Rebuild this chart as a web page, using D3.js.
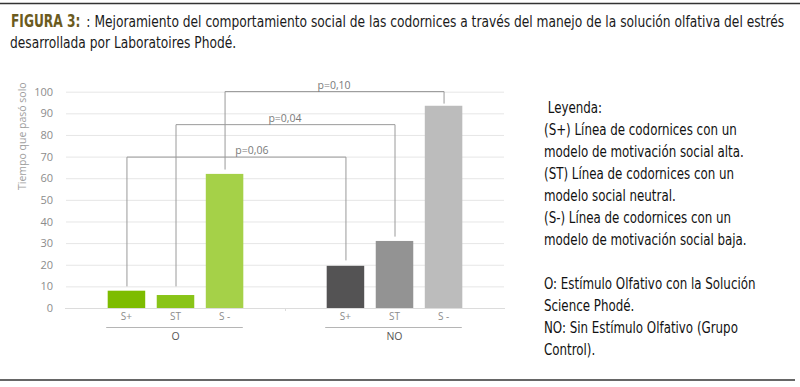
<!DOCTYPE html>
<html>
<head>
<meta charset="utf-8">
<script src="https://cdn.jsdelivr.net/npm/d3@7"></script>
<style>
  body { margin: 0; background: #fff; }
  .narrow { font-family: "Liberation Sans Narrow", "DejaVu Sans Condensed", sans-serif; font-stretch: condensed; }
  .chart-text { font-family: "Open Sans", "DejaVu Sans", sans-serif; }
</style>
</head>
<body>
<script>
// Data
var groups = ["O", "NO"];
var lines = ["S+", "ST", "S -"];
var valuesO = [8, 6, 62];
var valuesNO = [19.5, 31, 93.5];
var yTicks = [0, 10, 20, 30, 40, 50, 60, 70, 80, 90, 100];

// significance brackets: O line vs NO line
var pLabels = ["p=0,06", "p=0,04", "p=0,10"];
var pLevel = [70, 85, 100.3];
var pLeftEnd = [10, 10, 64];
var pRightEnd = [22, 33, 94.5];

var legendLines = [
  " Leyenda:",
  "(S+) Línea de codornices con un",
  "modelo de motivación social alta.",
  "(ST) Línea de codornices con un",
  "modelo social neutral.",
  "(S-) Línea de codornices con un",
  "modelo de motivación social baja.",
  "",
  "O: Estímulo Olfativo con la Solución",
  "Science Phodé.",
  "NO: Sin Estímulo Olfativo (Grupo",
  "Control)."
];

var colorsO = ["#7dbc00", "#89c418", "#a5d148"];
var colorsNO = ["#545354", "#939393", "#bcbcbc"];

var svgWidth = 800;
var svgHeight = 387;

var svg = d3.select("body")
  .append("svg")
  .attr("width", svgWidth)
  .attr("height", svgHeight);

// narrow text helper: squeezes the condensed fallback font horizontally
function narrowText(parent, x, y, size, sx) {
  return parent.append("text")
    .attr("class", "narrow")
    .attr("transform", `translate(${x},${y}) scale(${sx},1)`)
    .attr("font-size", size);
}

// frame lines top and bottom
svg.append("line")
  .attr("x1", 0).attr("x2", 800)
  .attr("y1", 3.5).attr("y2", 3.5)
  .attr("stroke", "#333").attr("stroke-width", 1.5);

svg.append("line")
  .attr("x1", 0).attr("x2", 795)
  .attr("y1", 380).attr("y2", 380)
  .attr("stroke", "#333").attr("stroke-width", 1.5);

// title
var figLabel = narrowText(svg, 11, 27, 17, 0.8)
  .attr("font-weight", "bold")
  .attr("fill", "#6b5b1e")
  .text("FIGURA 3:");

var figW = figLabel.node().getComputedTextLength() * 0.8;

var titleStart = 11 + figW + 6;
var title1 = narrowText(svg, titleStart, 27, 15.5, 1)
  .attr("fill", "#1a1a1a")
  .text(": Mejoramiento del comportamiento social de las codornices a través del manejo de la solución olfativa del estrés");

var titleScale = (785 - titleStart) / title1.node().getComputedTextLength();
title1.attr("transform", `translate(${titleStart},27) scale(${titleScale},1)`);

narrowText(svg, 10, 48, 15.5, titleScale)
  .attr("fill", "#1a1a1a")
  .text("desarrollada por Laboratoires Phodé.");

// chart scales
var yScale = d3.scaleLinear()
  .domain([0, 100])
  .range([308, 91.7]);

var xGroup = d3.scaleBand()
  .domain(groups)
  .range([66, 504]);

var xLine = d3.scaleBand()
  .domain(lines)
  .range([0, xGroup.bandwidth()])
  .paddingInner(0.235)
  .paddingOuter(0.85);

var chartGroup = svg.append("g").attr("class", "chart-text");

// gridlines
chartGroup.selectAll(".grid")
  .data(yTicks.slice(1))
  .enter().append("line")
  .attr("x1", 66)
  .attr("x2", 504)
  .attr("y1", d => yScale(d) + 0.5)
  .attr("y2", d => yScale(d) + 0.5)
  .attr("stroke", "#e6e6e6");

// y axis (labels only)
var leftAxis = d3.axisLeft(yScale)
  .tickValues(yTicks)
  .tickSize(0)
  .tickPadding(0);

var yAxis = chartGroup.append("g")
  .attr("transform", "translate(53,0)")
  .call(leftAxis);

yAxis.select(".domain").remove();
yAxis.selectAll("text")
  .attr("font-family", "Open Sans, sans-serif")
  .attr("font-size", 11)
  .attr("fill", "#8c8c8c");

// y axis title
chartGroup.append("text")
  .attr("transform", "translate(26,190) rotate(-90)")
  .attr("font-size", 10.5)
  .attr("fill", "#a0a0a0")
  .text("Tiempo que pasó solo");

// baseline
chartGroup.append("line")
  .attr("x1", 65).attr("x2", 505)
  .attr("y1", 308.5).attr("y2", 308.5)
  .attr("stroke", "#dcdcdc");

chartGroup.append("line")
  .attr("x1", xGroup("NO") + 0.5).attr("x2", xGroup("NO") + 0.5)
  .attr("y1", 308).attr("y2", 311)
  .attr("stroke", "#dcdcdc");

function barX(g, l) {
  return xGroup(g) + xLine(l);
}
function barCenter(g, l) {
  return barX(g, l) + xLine.bandwidth() / 2;
}

// bars
var seriesData = [valuesO, valuesNO];
var seriesColors = [colorsO, colorsNO];

groups.forEach(function (g, gi) {
  chartGroup.selectAll(".bar-" + gi)
    .data(seriesData[gi])
    .enter().append("rect")
    .attr("x", (d, i) => barX(g, lines[i]))
    .attr("y", d => yScale(d))
    .attr("width", xLine.bandwidth())
    .attr("height", d => yScale(0) - yScale(d))
    .attr("fill", (d, i) => seriesColors[gi][i]);

  // category labels
  chartGroup.selectAll(".cat-" + gi)
    .data(lines)
    .enter().append("text")
    .attr("x", d => barCenter(g, d))
    .attr("y", 320)
    .attr("text-anchor", "middle")
    .attr("font-size", 10)
    .attr("fill", "#8c8c8c")
    .text(d => d);

  // group underline and label
  chartGroup.append("line")
    .attr("x1", barX(g, lines[0]) - 1.5)
    .attr("x2", barX(g, lines[2]) + xLine.bandwidth() - 0.5)
    .attr("y1", 327.5).attr("y2", 327.5)
    .attr("stroke", "#b5b5b5");

  chartGroup.append("text")
    .attr("x", xGroup(g) + xGroup.bandwidth() / 2)
    .attr("y", 340)
    .attr("text-anchor", "middle")
    .attr("font-size", 10.5)
    .attr("fill", "#555")
    .text(g);
});

// significance brackets
pLabels.forEach(function (label, i) {
  var x1 = barCenter("O", lines[i]);
  var x2 = barCenter("NO", lines[i]);
  var top = yScale(pLevel[i]);

  chartGroup.append("path")
    .attr("d", "M" + (x1 + 0.5) + "," + yScale(pLeftEnd[i]) +
      "V" + (top + 0.5) + "H" + (x2 + 0.5) + "V" + yScale(pRightEnd[i]))
    .attr("fill", "none")
    .attr("stroke", "#9a9a9a")
    .attr("stroke-width", 1);

  chartGroup.append("text")
    .attr("x", (x1 + x2) / 2 + (i == 0 ? 16 : 0))
    .attr("y", top - 2.5)
    .attr("text-anchor", "middle")
    .attr("font-size", 10.5)
    .attr("fill", "#7a7a7a")
    .text(label);
});

// legend
var legend = svg.append("g");
legendLines.forEach(function (line, i) {
  narrowText(legend, 544, 113 + i * 22, 15, 0.88)
    .attr("fill", "#111")
    .style("white-space", "pre")
    .text(line);
});
</script>
</body>
</html>
